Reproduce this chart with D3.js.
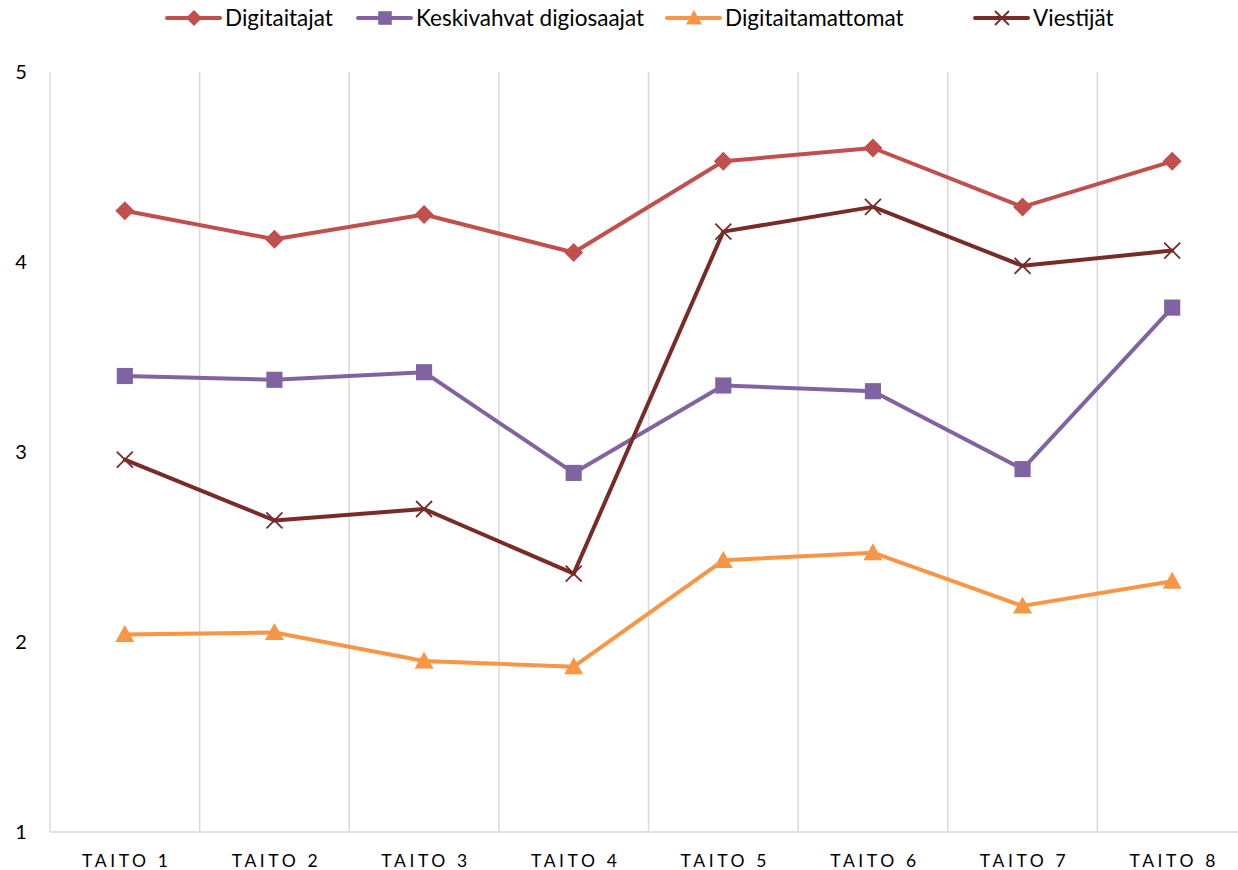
<!DOCTYPE html>
<html lang="fi">
<head>
<meta charset="UTF-8">
<title>Taidot</title>
<script src="https://d3js.org/d3.v7.min.js"></script>
<style>
  body { margin: 0; background: #fff; font-family: Lato, "Open Sans", sans-serif; }
  svg { display: block; }
</style>
</head>
<body>
<svg width="1238" height="870"></svg>
<script>
  const categories = ["TAITO 1", "TAITO 2", "TAITO 3", "TAITO 4", "TAITO 5", "TAITO 6", "TAITO 7", "TAITO 8"];
  const digitaitajat = [4.27, 4.12, 4.25, 4.05, 4.53, 4.60, 4.29, 4.53];
  const keskivahvat = [3.40, 3.38, 3.42, 2.89, 3.35, 3.32, 2.91, 3.76];
  const digitaitamattomat = [2.04, 2.05, 1.90, 1.87, 2.43, 2.47, 2.19, 2.32];
  const viestijat = [2.96, 2.64, 2.70, 2.36, 4.16, 4.29, 3.98, 4.06];
  const yTicks = [1, 2, 3, 4, 5];

  const series = [
    { name: "Digitaitajat", values: digitaitajat, color: "#C0504D", marker: "diamond" },
    { name: "Keskivahvat digiosaajat", values: keskivahvat, color: "#8064A2", marker: "square" },
    { name: "Digitaitamattomat", values: digitaitamattomat, color: "#F79646", marker: "triangle" },
    { name: "Viestijät", values: viestijat, color: "#772C2A", marker: "cross" }
  ];

  const svg = d3.select("svg");
  const plotL = 50, plotR = 1247, plotT = 72, plotB = 832;

  const x = d3.scaleBand().domain(categories).range([plotL, plotR]);
  const y = d3.scaleLinear().domain([1, 5]).range([plotB, plotT]);

  // vertical gridlines between categories
  const gridX = categories.map(c => x(c)).concat([plotR]);
  svg.append("g").selectAll("line").data(gridX.slice(1)).join("line")
    .attr("x1", d => d).attr("x2", d => d)
    .attr("y1", plotT).attr("y2", plotB)
    .attr("stroke", "#d9d9d9").attr("stroke-width", 1.5);

  // left and bottom axis lines
  svg.append("line").attr("x1", plotL).attr("x2", plotL).attr("y1", plotT).attr("y2", plotB)
    .attr("stroke", "#d9d9d9").attr("stroke-width", 1.5);
  svg.append("line").attr("x1", plotL).attr("x2", plotR).attr("y1", plotB).attr("y2", plotB)
    .attr("stroke", "#d9d9d9").attr("stroke-width", 1.5);

  // y tick labels
  svg.append("g").selectAll("text").data(yTicks).join("text")
    .attr("x", 21).attr("y", d => y(d)).attr("dy", "0.35em")
    .attr("text-anchor", "middle")
    .attr("font-size", 20).attr("fill", "#000")
    .text(d => d);

  // category labels
  svg.append("g").selectAll("text").data(categories).join("text")
    .attr("x", d => x(d) + x.bandwidth() / 2 + 2).attr("y", 867)
    .attr("text-anchor", "middle")
    .attr("font-size", 17.5).attr("letter-spacing", "3.6px").attr("fill", "#000")
    .text(d => d);

  function drawMarker(g, type, color, s) {
    if (type === "diamond") {
      g.append("path").attr("d", `M0,${-s}L${s},0L0,${s}L${-s},0Z`).attr("fill", color);
    } else if (type === "square") {
      g.append("rect").attr("x", -s * 0.85).attr("y", -s * 0.85)
        .attr("width", s * 1.7).attr("height", s * 1.7).attr("fill", color);
    } else if (type === "triangle") {
      g.append("path").attr("d", `M0,${-s}L${s},${s * 0.8}L${-s},${s * 0.8}Z`).attr("fill", color);
    } else {
      g.append("path").attr("d", `M${-s},${-s}L${s},${s}M${-s},${s}L${s},${-s}`)
        .attr("stroke", color).attr("stroke-width", 1.8).attr("fill", "none");
    }
  }

  const line = d3.line()
    .x((d, i) => x(categories[i]) + x.bandwidth() / 2)
    .y(d => y(d));

  series.forEach(s => {
    svg.append("path").datum(s.values)
      .attr("d", line)
      .attr("fill", "none").attr("stroke", s.color)
      .attr("stroke-width", 4).attr("stroke-linejoin", "round").attr("stroke-linecap", "round");
    s.values.forEach((v, i) => {
      const g = svg.append("g")
        .attr("transform", `translate(${x(categories[i]) + x.bandwidth() / 2},${y(v)})`);
      drawMarker(g, s.marker, s.color, s.marker === "cross" ? 8 : 9.5);
    });
  });

  // legend
  const legendX = [167, 358, 667, 975];
  series.forEach((s, i) => {
    const g = svg.append("g").attr("transform", `translate(${legendX[i]},18)`);
    g.append("line").attr("x1", 0).attr("x2", 53).attr("y1", 0).attr("y2", 0)
      .attr("stroke", s.color).attr("stroke-width", 4).attr("stroke-linecap", "round");
    const m = g.append("g").attr("transform", "translate(27,0)");
    drawMarker(m, s.marker, s.color, s.marker === "cross" ? 7 : 8);
    g.append("text").attr("x", 58).attr("y", 0).attr("dy", "0.35em")
      .attr("font-size", 22.5).attr("fill", "#000").text(s.name);
  });
</script>
</body>
</html>
